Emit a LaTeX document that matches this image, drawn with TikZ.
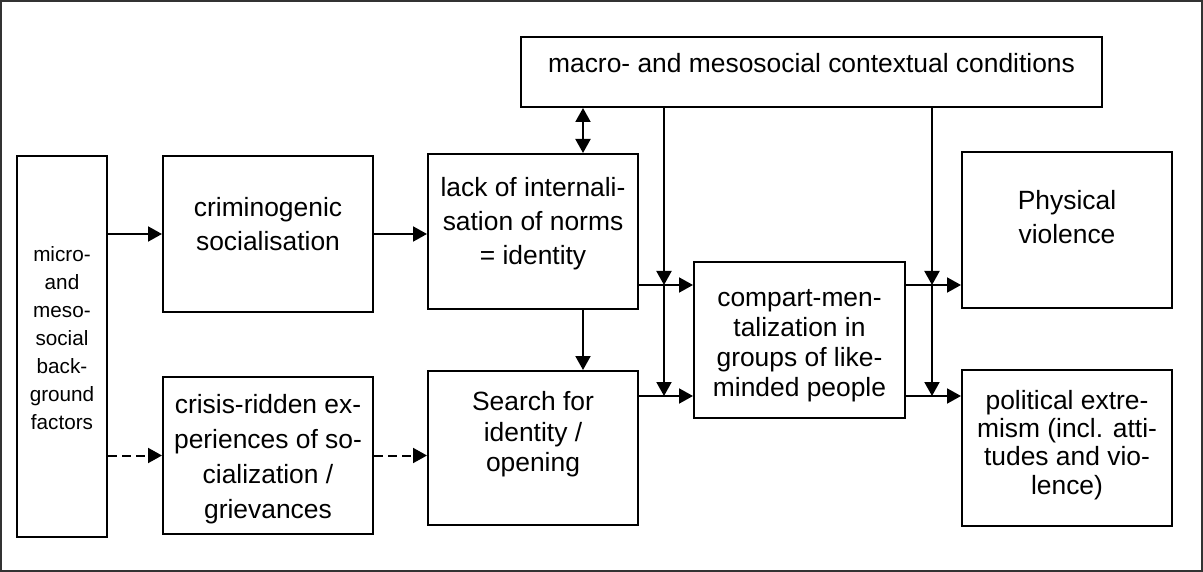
\documentclass[tikz,border=0pt]{standalone}
\usepackage{fontspec}
\setmainfont{Liberation Sans}
\usetikzlibrary{arrows.meta}

% text lines of a box, lifted a little towards the top edge
\newcommand{\boxtext}[2]{\raisebox{#1}[\height][\depth]{\begin{tabular}{@{}c@{}}#2\end{tabular}}}

\begin{document}
\begin{tikzpicture}[x=1pt,y=-1pt,
  box/.style={draw, line width=2pt, inner sep=0pt, minimum width=210pt, minimum height=156pt,
    font=\fontsize{26.4}{34}\selectfont},
  arr/.style={line width=2pt, -{Triangle[length=14pt,width=15pt]}},
  dasharr/.style={arr, dash pattern=on 9pt off 5pt}]
  \useasboundingbox (0,0) rectangle (1203,572);
  \draw[line width=1.8pt, black!80] (1,1) rectangle (1202,571);

  % boxes
  \node[box, minimum width=90pt, minimum height=381pt, font=\fontsize{20.7}{28}\selectfont]
    (back) at (62,346.5) {\boxtext{7pt}{micro-\\and\\meso-\\social\\back-\\ground\\factors}};
  \node[box] (crim) at (268,234) {\boxtext{7.5pt}{criminogenic\\socialisation}};
  \node[box, minimum height=157pt, font=\fontsize{26.4}{35}\selectfont] (crisis) at (268,455.5)
    {\boxtext{-3.5pt}{crisis-ridden ex-\\periences of so-\\cialization /\\grievances}};
  \node[box, minimum height=155pt] (lack) at (533,231.5)
    {\boxtext{8pt}{lack of internali-\\sation of norms\\= identity}};
  \node[box, minimum height=154pt, font=\fontsize{26.4}{30.5}\selectfont] (search) at (533,448)
    {\boxtext{13pt}{Search for\\identity /\\opening}};
  \node[box, minimum width=581pt, minimum height=70pt] (macro) at (811.5,72)
    {\boxtext{6pt}{macro- and mesosocial contextual conditions}};
  \node[box, minimum width=211pt, font=\fontsize{26.4}{30}\selectfont] (compart) at (799.5,340)
    {\boxtext{-5pt}{compart-men-\\talization in\\groups of like-\\minded people}};
  \node[box] (phys) at (1067,230) {\boxtext{10pt}{Physical\\violence}};
  \node[box, font=\fontsize{26.4}{28.3}\selectfont] (polit) at (1067,448)
    {\boxtext{2pt}{political extre-\\mism (incl. atti-\\tudes and vio-\\lence)}};

  % left part
  \draw[arr] (back.east |- crim.west) -- (crim.west);
  \draw[arr] (crim.east) -- (crim.east -| lack.west);
  \draw[dasharr] (back.east |- crisis.west) -- (crisis.west);
  \draw[dasharr] (crisis.east) -- (crisis.east -| search.west);
  \draw[arr] ([xshift=50pt]lack.south) -- ([xshift=50pt]lack.south |- search.north);
  \draw[arr, {Triangle[length=14pt,width=15pt]}-{Triangle[length=14pt,width=15pt]}]
    ([xshift=50pt]lack.north) -- ([xshift=50pt]lack.north |- macro.south);

  % into and out of the groups box
  \coordinate (cin1) at ([yshift=-24pt]compart.north west);
  \coordinate (cin2) at ([yshift=23pt]compart.south west);
  \coordinate (cout1) at ([yshift=-24pt]compart.north east);
  \coordinate (cout2) at ([yshift=23pt]compart.south east);
  \draw[arr] (lack.east |- cin1) -- (cin1);
  \draw[arr] (search.east |- cin2) -- (cin2);
  \draw[arr] (cout1) -- (cout1 -| phys.west);
  \draw[arr] (cout2) -- (cout2 -| polit.west);

  % contextual conditions acting on the arrows
  \coordinate (v1) at ([xshift=-29pt]cin1);
  \coordinate (v2) at ([xshift=-29pt]cin2);
  \coordinate (w1) at ([xshift=26pt]cout1);
  \coordinate (w2) at ([xshift=26pt]cout2);
  \draw[arr] (macro.south -| v1) -- (v1);
  \draw[arr] (v1) -- (v2);
  \draw[arr] (macro.south -| w1) -- (w1);
  \draw[arr] (w1) -- (w2);
\end{tikzpicture}
\end{document}
